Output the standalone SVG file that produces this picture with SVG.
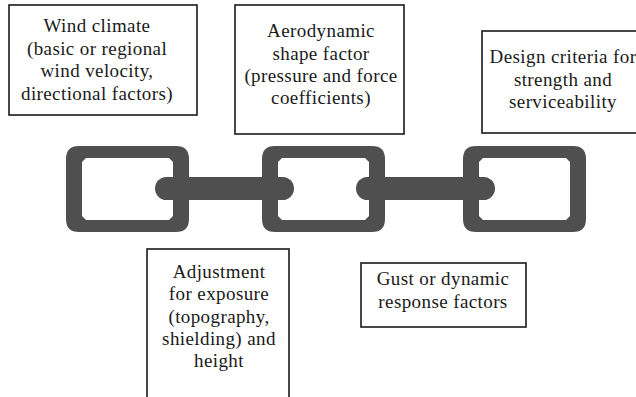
<svg xmlns="http://www.w3.org/2000/svg" width="636" height="397" viewBox="0 0 636 397">
  <style>
    .box { fill: #ffffff; stroke: #1a1a1a; stroke-width: 1.6; }
    .label { font-family: "Liberation Serif", "DejaVu Serif", serif; font-size: 19px; letter-spacing: 0.4px; fill: #1a1a1a; text-anchor: middle; }
    .link { fill: #4f4f4f; fill-rule: evenodd; }
    .bar { fill: #4f4f4f; }
  </style>
  <defs>
    <!-- one chain link: rounded outer edge, chamfered opening -->
    <path id="chainLink" d="M13,0 H110 Q123,0 123,13 V73 Q123,86 110,86 H13 Q0,86 0,73 V13 Q0,0 13,0 Z
             M20,12 H103 L107,16 V70 L103,74 H20 L16,70 V16 Z"/>
  </defs>

  <rect width="636" height="397" fill="#ffffff"/>

  <!-- chain -->
  <g id="chain">
    <use href="#chainLink" class="link" x="66" y="146"/>
    <use href="#chainLink" class="link" x="262" y="146"/>
    <use href="#chainLink" class="link" x="463" y="146"/>
    <rect class="bar" x="155" y="177" width="139" height="23" rx="11.5"/>
    <rect class="bar" x="356" y="177" width="139" height="23" rx="11.5"/>
  </g>

  <g id="wind-climate">
    <rect class="box" x="9" y="5" width="188" height="110"/>
    <text class="label" x="97" y="32">Wind climate</text>
    <text class="label" x="97" y="55">(basic or regional</text>
    <text class="label" x="97" y="77">wind velocity,</text>
    <text class="label" x="97" y="100">directional factors)</text>
  </g>

  <g id="shape-factor">
    <rect class="box" x="235" y="5" width="169" height="129"/>
    <text class="label" x="321" y="37">Aerodynamic</text>
    <text class="label" x="321" y="60">shape factor</text>
    <text class="label" x="321" y="82">(pressure and force</text>
    <text class="label" x="321" y="104">coefficients)</text>
  </g>

  <g id="design-criteria">
    <rect class="box" x="482" y="31" width="170" height="102"/>
    <text class="label" x="563" y="63">Design criteria for</text>
    <text class="label" x="563" y="86">strength and</text>
    <text class="label" x="563" y="108">serviceability</text>
  </g>

  <g id="exposure">
    <rect class="box" x="147" y="249" width="142" height="160"/>
    <text class="label" x="219" y="278">Adjustment</text>
    <text class="label" x="219" y="300">for exposure</text>
    <text class="label" x="219" y="323">(topography,</text>
    <text class="label" x="219" y="345">shielding) and</text>
    <text class="label" x="219" y="367">height</text>
  </g>

  <g id="gust-factors">
    <rect class="box" x="361" y="263" width="165" height="64"/>
    <text class="label" x="443" y="285">Gust or dynamic</text>
    <text class="label" x="443" y="308">response factors</text>
  </g>
</svg>
